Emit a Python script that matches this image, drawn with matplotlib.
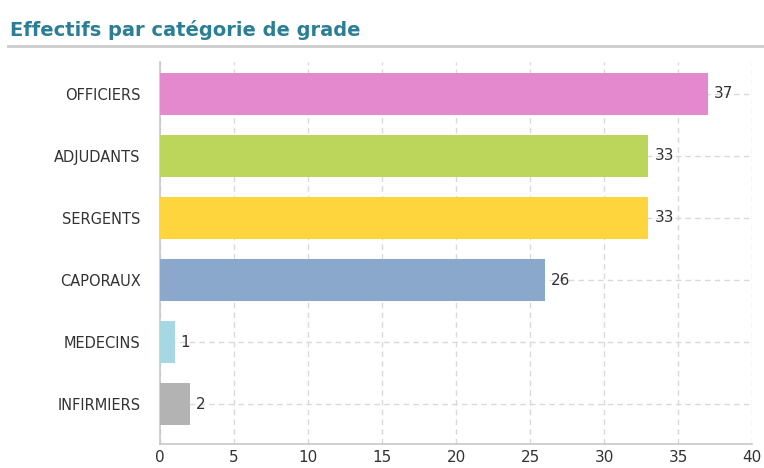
import matplotlib
matplotlib.use('Agg')
import matplotlib.pyplot as plt
from matplotlib.lines import Line2D

categories = ['INFIRMIERS', 'MEDECINS', 'CAPORAUX', 'SERGENTS', 'ADJUDANTS', 'OFFICIERS']
values = [2, 1, 26, 33, 33, 37]
colors = ['#b3b3b3', '#a6d8e3', '#8aa8cb', '#fed53d', '#bcd65b', '#e589cf']
xticks = [0, 5, 10, 15, 20, 25, 30, 35, 40]

fig = plt.figure(figsize=(7.64, 4.68), dpi=100)
ax = fig.add_axes([160 / 764, 24 / 468, 592 / 764, 382 / 468])

ypos = list(range(len(categories)))
ax.barh(ypos, values, height=0.68, color=colors, zorder=3)
for y, v in zip(ypos, values):
    ax.text(v + 0.4, y, str(v), va='center', ha='left', fontsize=11, color='#333333', zorder=4)

ax.set_xlim(0, 40)
ax.set_ylim(-0.645, 5.516)
ax.set_yticks(ypos)
ax.set_yticklabels(categories, fontsize=10.5, color='#333333')
ax.set_xticks(xticks)
ax.set_xticklabels([str(t) for t in xticks], fontsize=11, color='#333333')
ax.tick_params(axis='y', length=0, pad=14)
ax.tick_params(axis='x', length=0, pad=4)
ax.grid(True, linestyle=(0, (4, 3)), color='#d9d9d9', linewidth=1, zorder=0)
for side in ['top', 'right']:
    ax.spines[side].set_visible(False)
for side in ['left', 'bottom']:
    ax.spines[side].set_color('#c8c8c8')
    ax.spines[side].set_linewidth(1.2)

fig.text(10 / 764, 1 - 30 / 468, 'Effectifs par catégorie de grade', fontsize=14,
         color='#2a7f96', fontweight='bold', va='center', ha='left')
fig.add_artist(Line2D([8 / 764, 1], [1 - 46 / 468, 1 - 46 / 468], color='#cccccc', linewidth=2))

fig.savefig('out.png', dpi=100)
